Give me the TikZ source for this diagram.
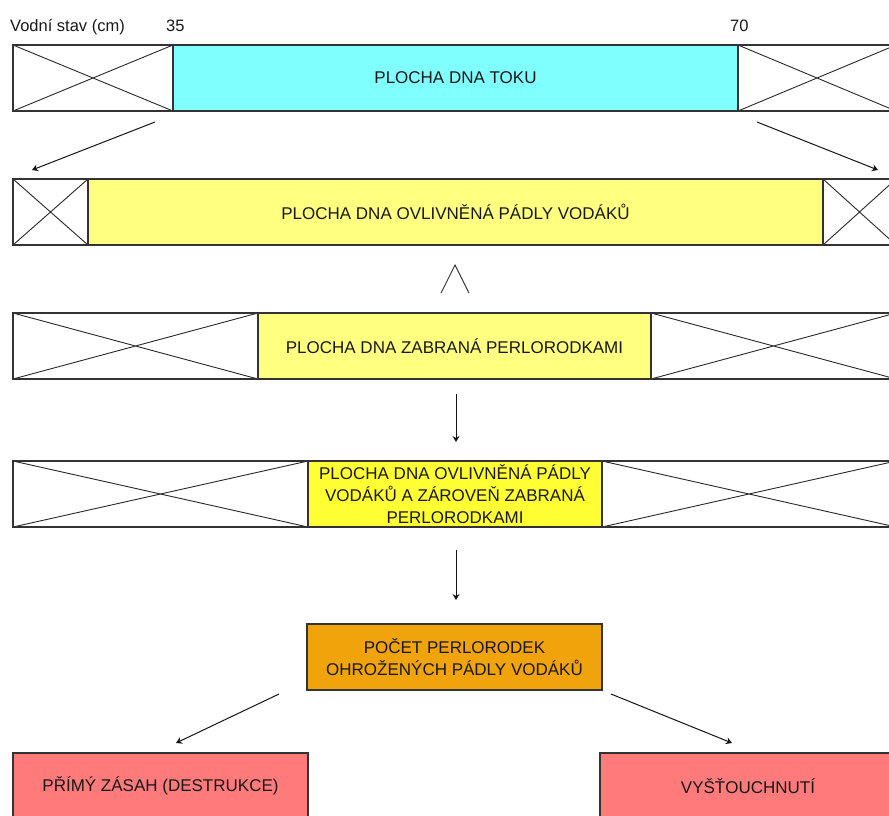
\documentclass[tikz,border=0pt]{standalone}
\usepackage{fontspec}
\setmainfont{Liberation Sans}
\usetikzlibrary{arrows.meta}
\begin{document}
\begin{tikzpicture}[x=1pt,y=-1pt,
  box/.style={draw=lineColor,line width=1.2pt,inner sep=0pt,outer sep=0pt,
    minimum height=66,align=center,text=textColor,
    font=\fontsize{17}{22}\selectfont},
  xbox/.style={box,path picture={
    \draw[crossColor,line width=0.9pt]
      (path picture bounding box.north west) -- (path picture bounding box.south east)
      (path picture bounding box.south west) -- (path picture bounding box.north east);}},
  conn/.style={draw=arrowColor,line width=1pt,-{Stealth[length=6pt,width=7pt,inset=2pt]}},
  lbl/.style={anchor=base west,inner sep=0pt,text=textColor,font=\fontsize{16.5}{20}\selectfont}]
\definecolor{lineColor}{RGB}{51,51,51}
\definecolor{crossColor}{RGB}{40,40,40}
\definecolor{arrowColor}{RGB}{20,20,20}
\definecolor{textColor}{RGB}{25,25,25}
\definecolor{tokColor}{RGB}{128,255,255}
\definecolor{paleYellow}{RGB}{255,255,128}
\definecolor{brightYellow}{RGB}{255,255,51}
\definecolor{orangeColor}{RGB}{240,163,10}
\definecolor{redColor}{RGB}{255,122,122}
\path[use as bounding box] (0,0) rectangle (889,815);
\clip (0,0) rectangle (889,815);

% water level scale
\node[lbl] (stav) at (10,31) {Vodní stav (cm)};
\node[lbl] (v35) at (166,31) {35};
\node[lbl] (v70) at (730,31) {70};

% river bed
\node[xbox,minimum width=160] (tokL) at (93,78) {};
\node[box,fill=tokColor,minimum width=565] (tok) at (455.5,78) {PLOCHA DNA TOKU};
\node[xbox,minimum width=158] (tokR) at (817,78) {};

% bed touched by paddles
\node[xbox,minimum width=75] (padL) at (50.5,212) {};
\node[box,fill=paleYellow,minimum width=735] (pad) at (455.5,212) {PLOCHA DNA OVLIVNĚNÁ PÁDLY VODÁKŮ};
\node[xbox,minimum width=73] (padR) at (859.5,212) {};

% bed with mussels
\node[xbox,minimum width=245] (musL) at (135.5,346) {};
\node[box,fill=paleYellow,minimum width=393] (mus) at (454.5,346) {PLOCHA DNA ZABRANÁ PERLORODKAMI};
\node[xbox,minimum width=245] (musR) at (773.5,346) {};

% overlap
\node[xbox,minimum width=295] (bothL) at (160.5,494) {};
\node[box,fill=brightYellow,minimum width=294] (both) at (455,494)
  {PLOCHA DNA OVLIVNĚNÁ PÁDLY\\VODÁKŮ A ZÁROVEŇ ZABRANÁ\\PERLORODKAMI};
\node[xbox,minimum width=294] (bothR) at (749,494) {};

% result
\node[box,fill=orangeColor,minimum width=295] (pocet) at (454.5,657)
  {POČET PERLORODEK\\OHROŽENÝCH PÁDLY VODÁKŮ};
\node[box,fill=redColor,minimum width=295] (zasah) at (160.5,786) {PŘÍMÝ ZÁSAH (DESTRUKCE)};
\node[box,fill=redColor,minimum width=296] (vys) at (748,786) {VYŠŤOUCHNUTÍ};

% arrow ends
\coordinate (a1s) at (155,122);
\coordinate (a1e) at (32,170);
\coordinate (a2s) at (757,122);
\coordinate (a2e) at (878,170);
\coordinate (d1s) at (456,394);
\coordinate (d1e) at (456,442);
\coordinate (d2s) at (456,550);
\coordinate (d2e) at (456,600);
\coordinate (b1s) at (279,694);
\coordinate (b1e) at (176,743);
\coordinate (b2s) at (611,694);
\coordinate (b2e) at (732,743);

\draw[conn] (a1s) -- (a1e);
\draw[conn] (a2s) -- (a2e);
\draw[conn] (d1s) -- (d1e);
\draw[conn] (d2s) -- (d2e);
\draw[conn] (b1s) -- (b1e);
\draw[conn] (b2s) -- (b2e);

% intersection sign
\draw[lineColor,line width=0.9pt] (441,293) -- (455,265) -- (469,293);
\end{tikzpicture}
\end{document}
